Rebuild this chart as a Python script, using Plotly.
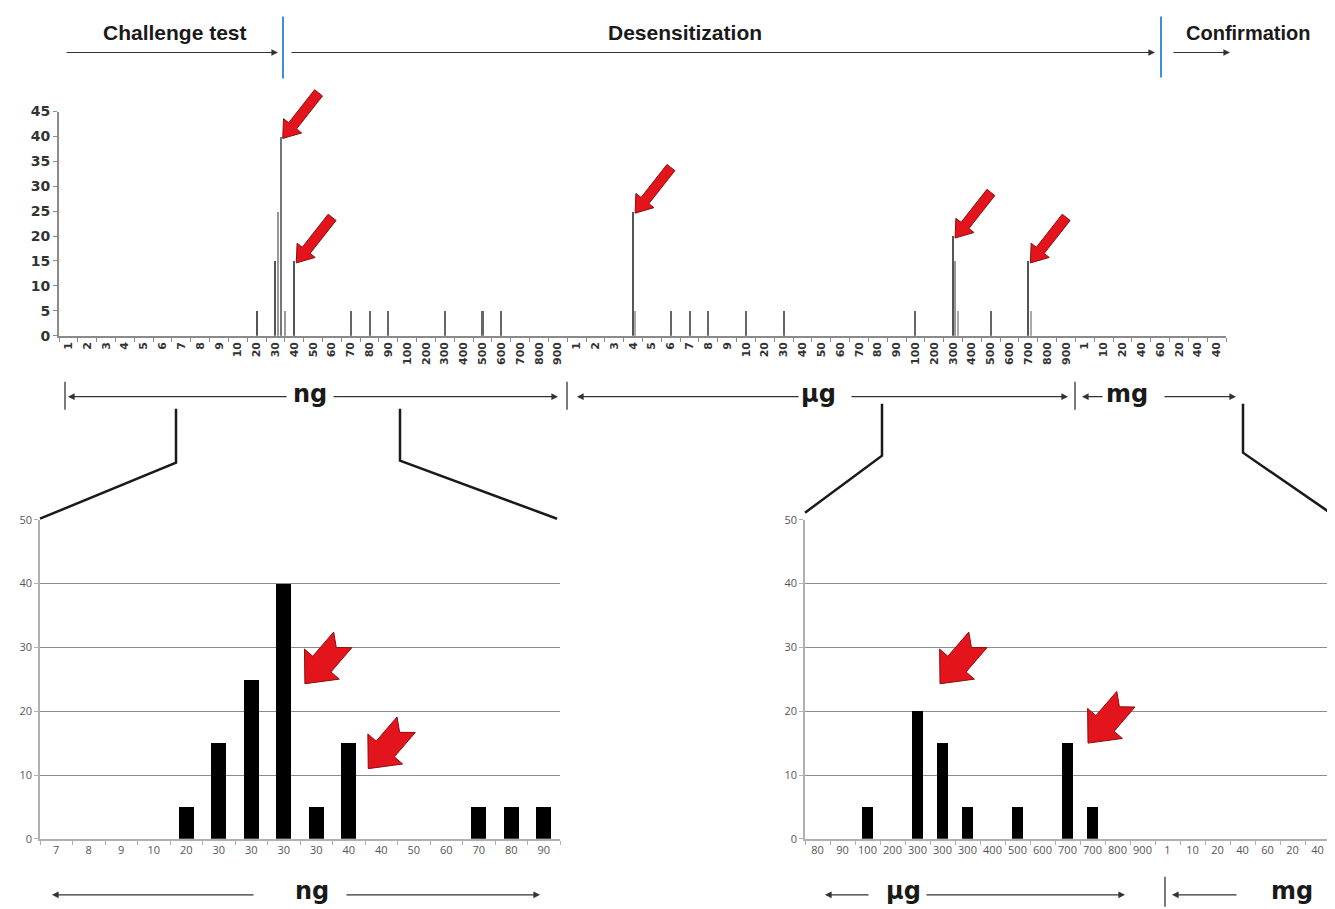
import plotly.graph_objects as go
import math

W, H = 1335, 909

# ---------------- data ----------------
ng_labels = [str(v) for v in range(1, 10)] + [str(v) for v in range(10, 100, 10)] + [str(v) for v in range(100, 1000, 100)]
ug_labels = [str(v) for v in range(1, 10)] + [str(v) for v in range(10, 100, 10)] + [str(v) for v in range(100, 1000, 100)]
mg_labels = ["1", "10", "20", "40", "60", "20", "40", "40"]
top_labels = ng_labels + ug_labels + mg_labels

# bar position (category slot on the overview axis) and number of patients
top_slot = [10, 11, 11.12, 11.28, 11.52, 12, 15, 16, 17, 20, 22, 23,
            30, 30.12, 32, 33, 34, 36, 38, 45, 47, 47.12, 47.25, 49, 51, 51.12]
top_val = [5, 15, 25, 40, 5, 15, 5, 5, 5, 5, 5, 5,
           25, 5, 5, 5, 5, 5, 5, 5, 20, 15, 5, 5, 15, 5]
top_shade = ["#555", "#555", "#999", "#777", "#999", "#555", "#666", "#666", "#666", "#666", "#666", "#666",
             "#555", "#aaa", "#666", "#666", "#666", "#666", "#666", "#666", "#555", "#999", "#aaa", "#666", "#555", "#aaa"]

bl_labels = ["7", "8", "9", "10", "20", "30", "30", "30", "30", "40", "40", "50", "60", "70", "80", "90"]
bl_vals = [0, 0, 0, 0, 5, 15, 25, 40, 5, 15, 0, 0, 0, 5, 5, 5]

br_labels = ["80", "90", "100", "200", "300", "300", "300", "400", "500", "600", "700", "700", "800", "900",
             "1", "10", "20", "40", "60", "20", "40"]
br_vals = [0, 0, 5, 0, 20, 15, 5, 0, 5, 0, 15, 5, 0, 0, 0, 0, 0, 0, 0, 0, 0]

# ---------------- helpers (target-pixel -> paper, compensating page offset) ----------------
OX, OY, SY = 8.0, 15.5, 0.982

def px(x):
    return (x - OX) / W

def py(y):
    return 1 - ((y - OY) / SY) / H

top_xdom = [px(59), px(1226)]
top_xrng = [-0.5, len(top_labels) - 0.5]
top_ydom = [py(335), py(111)]
top_yrng = [0, 45]
bl_xdom = [px(40), px(560)]
bl_xrng = [-0.5, len(bl_labels) - 0.5]
br_xdom = [px(805), px(1330)]
br_xrng = [-0.5, len(br_labels) - 0.5]
bot_ydom = [py(838), py(519)]
bot_yrng = [0, 50]

def to_paper(v, dom, rng):
    return dom[0] + (v - rng[0]) / (rng[1] - rng[0]) * (dom[1] - dom[0])

fig = go.Figure()

fig.add_trace(go.Bar(x=top_slot, y=top_val, width=0.11, marker=dict(color=top_shade, line=dict(width=0)),
                     xaxis="x", yaxis="y", showlegend=False))
fig.add_trace(go.Bar(x=list(range(len(bl_labels))), y=bl_vals, width=0.45, marker=dict(color="black", line=dict(width=0)),
                     xaxis="x2", yaxis="y2", showlegend=False))
fig.add_trace(go.Bar(x=list(range(len(br_labels))), y=br_vals, width=0.45, marker=dict(color="black", line=dict(width=0)),
                     xaxis="x3", yaxis="y3", showlegend=False))

axis_gray = "#8a8a8a"
fig.update_layout(
    width=W, height=H, margin=dict(l=0, r=0, t=0, b=0),
    paper_bgcolor="white", plot_bgcolor="white", bargap=0,
    xaxis=dict(domain=top_xdom, range=top_xrng,
               tickmode="array", tickvals=list(range(len(top_labels))), ticktext=top_labels,
               tickangle=-90, ticks="", showgrid=False, zeroline=False,
               showline=True, linecolor=axis_gray, linewidth=2,
               tickfont=dict(family="DejaVu Sans", size=11, color="#333", weight="bold"),
               minor=dict(tickmode="linear", tick0=0.5, dtick=1, ticks="outside", ticklen=4, tickcolor=axis_gray, showgrid=False),
               anchor="y"),
    yaxis=dict(domain=top_ydom, range=top_yrng, tickmode="linear", tick0=0, dtick=5,
               ticks="outside", ticklen=4, tickcolor=axis_gray, showgrid=False, zeroline=False,
               showline=True, linecolor=axis_gray, linewidth=2,
               tickfont=dict(family="DejaVu Sans", size=14, color="#333", weight="bold"), anchor="x"),
    xaxis2=dict(domain=bl_xdom, range=bl_xrng,
                tickmode="array", tickvals=list(range(len(bl_labels))), ticktext=bl_labels, ticks="",
                showgrid=False, zeroline=False, showline=True, linecolor="#b0b0b0", linewidth=1.5,
                tickfont=dict(family="Open Sans", size=11, color="#555"),
                minor=dict(tickmode="linear", tick0=0.5, dtick=1, ticks="outside", ticklen=4, tickcolor="#b0b0b0", showgrid=False),
                anchor="y2"),
    yaxis2=dict(domain=bot_ydom, range=bot_yrng, tickmode="linear", tick0=0, dtick=10,
                ticks="outside", ticklen=4, tickcolor="#b0b0b0", showgrid=True, gridcolor="#8c8c8c", gridwidth=1,
                zeroline=False, showline=True, linecolor="#b0b0b0", linewidth=1.5,
                tickfont=dict(family="Open Sans", size=11, color="#555"), anchor="x2"),
    xaxis3=dict(domain=br_xdom, range=br_xrng,
                tickmode="array", tickvals=list(range(len(br_labels))), ticktext=br_labels, ticks="",
                showgrid=False, zeroline=False, showline=True, linecolor="#b0b0b0", linewidth=1.5,
                tickfont=dict(family="Open Sans", size=11, color="#555"),
                minor=dict(tickmode="linear", tick0=0.5, dtick=1, ticks="outside", ticklen=4, tickcolor="#b0b0b0", showgrid=False),
                anchor="y3"),
    yaxis3=dict(domain=bot_ydom, range=bot_yrng, tickmode="linear", tick0=0, dtick=10,
                ticks="outside", ticklen=4, tickcolor="#b0b0b0", showgrid=True, gridcolor="#8c8c8c", gridwidth=1,
                zeroline=False, showline=True, linecolor="#b0b0b0", linewidth=1.5,
                tickfont=dict(family="Open Sans", size=11, color="#555"), anchor="x3"),
)

shapes = []
annotations = []

def line(x0, y0, x1, y1, color="#222", width=1.2):
    shapes.append(dict(type="line", xref="paper", yref="paper", x0=px(x0), y0=py(y0), x1=px(x1), y1=py(y1),
                       line=dict(color=color, width=width)))

def polyline(pts, color="#1a1a1a", width=2.5):
    d = "M " + " L ".join(f"{px(a)},{py(b)}" for a, b in pts)
    shapes.append(dict(type="path", xref="paper", yref="paper", path=d, line=dict(color=color, width=width)))

def arrow(x_tail, x_tip, y, color="#333"):
    annotations.append(dict(xref="paper", yref="paper", x=px(x_tip), y=py(y), ax=x_tail - x_tip, ay=0,
                            showarrow=True, arrowhead=2, arrowsize=1.2, arrowwidth=1.1, arrowcolor=color, text=""))

def text(x, y, s, size, family="DejaVu Sans", weight="bold", color="#1a1a1a"):
    annotations.append(dict(xref="paper", yref="paper", x=px(x), y=py(y), text=s, showarrow=False,
                            font=dict(family=family, size=size, color=color, weight=weight),
                            xanchor="center", yanchor="middle"))

# --- phase header ---
text(175, 32, "Challenge test", 21, family="Liberation Sans")
text(685, 32, "Desensitization", 21, family="Liberation Sans")
text(1248, 32, "Confirmation", 20, family="Liberation Sans")
arrow(65, 278, 52)
arrow(290, 1155, 52)
arrow(1172, 1230, 52)
line(283, 16, 283, 78, color="#3d8fd6", width=2)
line(1161, 16, 1161, 77, color="#3d8fd6", width=2)

# --- unit row under the overview chart ---
line(65, 381, 65, 409, width=1.2)
arrow(288, 68, 396)
text(310, 393, "ng", 24)
arrow(332, 558, 396)
line(567, 381, 567, 409, width=1.2)
arrow(800, 577, 396)
text(818, 393, "µg", 24)
arrow(850, 1068, 396)
line(1075, 381, 1075, 409, width=1.2)
arrow(1104, 1082, 396)
text(1127, 393, "mg", 24)
arrow(1163, 1236, 396)

# --- zoom connectors ---
polyline([(40, 518), (176, 462), (176, 408)])
polyline([(557, 518), (400, 460), (400, 408)])
polyline([(805, 512), (882, 455), (882, 403)])
polyline([(1330, 512), (1243, 452), (1243, 403)])

# --- unit rows under the detail charts ---
arrow(255, 52, 894)
text(312, 890, "ng", 24)
arrow(345, 540, 894)
arrow(870, 825, 894)
text(903, 890, "µg", 24)
arrow(925, 1125, 894)
line(1165, 876, 1165, 906, width=1.2)
arrow(1238, 1172, 894)
text(1292, 890, "mg", 24)

# --- red pointer arrows (tip anchored to data position, drawn in pixels, not clipped) ---
def block_arrow(xa, ya, ux, uy, L, sw, hw, hl, notch=0, offx=0, offy=0):
    n = math.hypot(ux, uy)
    ux, uy = ux / n, uy / n          # screen direction tail->tip (y down)
    nx, ny = -uy, ux
    def P(a, b):
        return (a * ux + b * nx + offx, a * uy + b * ny + offy)
    pts = [P(0, 0), P(-hl, hw / 2), P(-hl, sw / 2), P(-L, sw / 2), P(-L + notch, 0), P(-L, -sw / 2), P(-hl, -sw / 2), P(-hl, -hw / 2)]
    d = "M " + " L ".join(f"{a:.1f},{-b:.1f}" for a, b in pts) + " Z"
    shapes.append(dict(type="path", xref="paper", yref="paper", xsizemode="pixel", ysizemode="pixel",
                       xanchor=xa, yanchor=ya, path=d, fillcolor="#e3141b",
                       line=dict(color="#8a1010", width=1)))

# overview chart arrows
for i in [3, 5, 12, 20, 24]:
    block_arrow(to_paper(top_slot[i], top_xdom, top_xrng), to_paper(top_val[i], top_ydom, top_yrng),
                -33, 42, 58, 10, 23, 16, offx=2, offy=2)

# detail chart arrows
for xv, yv in [(7.65, 24.3), (9.6, 11.0)]:
    block_arrow(to_paper(xv, bl_xdom, bl_xrng), to_paper(yv, bot_ydom, bot_yrng), -38, 44, 58, 24, 46, 26, notch=10)
for xv, yv in [(4.9, 24.3), (10.82, 15.0)]:
    block_arrow(to_paper(xv, br_xdom, br_xrng), to_paper(yv, bot_ydom, bot_yrng), -38, 44, 58, 24, 46, 26, notch=10)

fig.update_layout(shapes=shapes, annotations=annotations)
fig.write_html("out.html")
